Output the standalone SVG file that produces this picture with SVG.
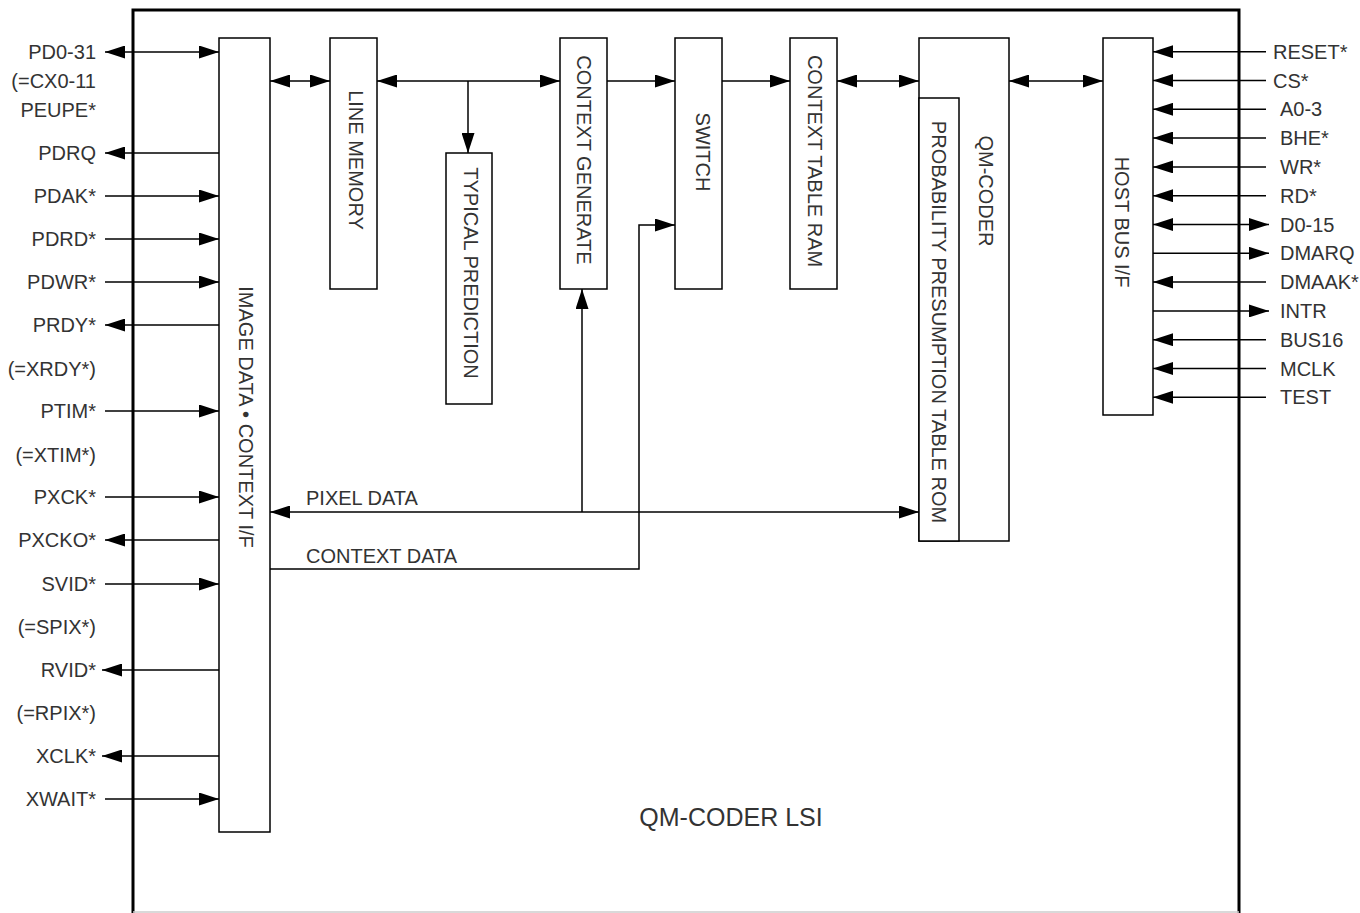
<svg xmlns="http://www.w3.org/2000/svg" width="1360" height="913" viewBox="0 0 1360 913">
  <style>
    .blk { fill: #fff; stroke: #000; stroke-width: 1.5; }
    .ln { fill: none; stroke: #000; stroke-width: 1.5; }
    .out { fill: none; stroke: #000; stroke-width: 3; }
    text { font-family: "Liberation Sans", Arial, sans-serif; font-size: 20px; fill: #333; }
    .l { text-anchor: end; }
    .c { text-anchor: middle; }
  </style>
  <defs>
    <marker id="ah" markerUnits="userSpaceOnUse" markerWidth="20" markerHeight="13" refX="20" refY="6.5" orient="auto-start-reverse">
      <path d="M0,0 L20,6.5 L0,13 Z" fill="#000"/>
    </marker>
  </defs>

  <rect width="1360" height="913" fill="#fff"/>

  <!-- chip outline -->
  <g id="chip">
    <path class="out" d="M133,914 V10 H1239 V914"/>
    <line x1="133" y1="912" x2="1239" y2="912" stroke="#ccc" stroke-width="1.5"/>
    <text class="c" x="731" y="826" style="font-size:25px">QM-CODER LSI</text>
  </g>

  <!-- connectors -->
  <g id="connectors">
    <!-- left-side pins -->
    <line class="ln" x1="105" y1="52" x2="219" y2="52" marker-start="url(#ah)" marker-end="url(#ah)"/>
    <line class="ln" x1="219" y1="153" x2="105" y2="153" marker-end="url(#ah)"/>
    <line class="ln" x1="105" y1="196" x2="219" y2="196" marker-end="url(#ah)"/>
    <line class="ln" x1="105" y1="239" x2="219" y2="239" marker-end="url(#ah)"/>
    <line class="ln" x1="105" y1="282" x2="219" y2="282" marker-end="url(#ah)"/>
    <line class="ln" x1="219" y1="325" x2="105" y2="325" marker-end="url(#ah)"/>
    <line class="ln" x1="105" y1="411" x2="219" y2="411" marker-end="url(#ah)"/>
    <line class="ln" x1="105" y1="497" x2="219" y2="497" marker-end="url(#ah)"/>
    <line class="ln" x1="219" y1="540" x2="105" y2="540" marker-end="url(#ah)"/>
    <line class="ln" x1="105" y1="584" x2="219" y2="584" marker-end="url(#ah)"/>
    <line class="ln" x1="219" y1="670" x2="102" y2="670" marker-end="url(#ah)"/>
    <line class="ln" x1="219" y1="756" x2="102" y2="756" marker-end="url(#ah)"/>
    <line class="ln" x1="105" y1="799" x2="219" y2="799" marker-end="url(#ah)"/>

    <!-- internal data path -->
    <line class="ln" x1="270" y1="81" x2="330" y2="81" marker-start="url(#ah)" marker-end="url(#ah)"/>
    <line class="ln" x1="377" y1="81" x2="560" y2="81" marker-start="url(#ah)" marker-end="url(#ah)"/>
    <line class="ln" x1="468" y1="81" x2="468" y2="153" marker-end="url(#ah)"/>
    <line class="ln" x1="607" y1="81" x2="675" y2="81" marker-end="url(#ah)"/>
    <line class="ln" x1="722" y1="81" x2="790" y2="81" marker-end="url(#ah)"/>
    <line class="ln" x1="837" y1="81" x2="919" y2="81" marker-start="url(#ah)" marker-end="url(#ah)"/>
    <line class="ln" x1="1009" y1="81" x2="1103" y2="81" marker-start="url(#ah)" marker-end="url(#ah)"/>

    <!-- pixel data bus -->
    <line class="ln" x1="270" y1="512" x2="919" y2="512" marker-start="url(#ah)" marker-end="url(#ah)"/>
    <line class="ln" x1="582" y1="512" x2="582" y2="289" marker-end="url(#ah)"/>
    <text x="306" y="505">PIXEL DATA</text>

    <!-- context data bus -->
    <path class="ln" d="M270,569 H639 V225 H675" marker-end="url(#ah)"/>
    <text x="306" y="563">CONTEXT DATA</text>

    <!-- right-side pins -->
    <line class="ln" x1="1266" y1="51.7" x2="1153" y2="51.7" marker-end="url(#ah)"/>
    <line class="ln" x1="1266" y1="80.5" x2="1153" y2="80.5" marker-end="url(#ah)"/>
    <line class="ln" x1="1266" y1="109.3" x2="1153" y2="109.3" marker-end="url(#ah)"/>
    <line class="ln" x1="1266" y1="138.1" x2="1153" y2="138.1" marker-end="url(#ah)"/>
    <line class="ln" x1="1266" y1="166.9" x2="1153" y2="166.9" marker-end="url(#ah)"/>
    <line class="ln" x1="1266" y1="195.7" x2="1153" y2="195.7" marker-end="url(#ah)"/>
    <line class="ln" x1="1153" y1="224.5" x2="1269" y2="224.5" marker-start="url(#ah)" marker-end="url(#ah)"/>
    <line class="ln" x1="1153" y1="253.3" x2="1269" y2="253.3" marker-end="url(#ah)"/>
    <line class="ln" x1="1266" y1="282.1" x2="1153" y2="282.1" marker-end="url(#ah)"/>
    <line class="ln" x1="1153" y1="310.9" x2="1269" y2="310.9" marker-end="url(#ah)"/>
    <line class="ln" x1="1266" y1="339.7" x2="1153" y2="339.7" marker-end="url(#ah)"/>
    <line class="ln" x1="1266" y1="368.5" x2="1153" y2="368.5" marker-end="url(#ah)"/>
    <line class="ln" x1="1266" y1="397.3" x2="1153" y2="397.3" marker-end="url(#ah)"/>
  </g>

  <!-- left pin labels -->
  <g id="left-pins">
    <text class="l" x="96" y="59">PD0-31</text>
    <text class="l" x="96" y="88">(=CX0-11</text>
    <text class="l" x="96" y="117">PEUPE*</text>
    <text class="l" x="96" y="160">PDRQ</text>
    <text class="l" x="96" y="203">PDAK*</text>
    <text class="l" x="96" y="246">PDRD*</text>
    <text class="l" x="96" y="289">PDWR*</text>
    <text class="l" x="96" y="332">PRDY*</text>
    <text class="l" x="96" y="376">(=XRDY*)</text>
    <text class="l" x="96" y="418">PTIM*</text>
    <text class="l" x="96" y="462">(=XTIM*)</text>
    <text class="l" x="96" y="504">PXCK*</text>
    <text class="l" x="96" y="547">PXCKO*</text>
    <text class="l" x="96" y="591">SVID*</text>
    <text class="l" x="96" y="634">(=SPIX*)</text>
    <text class="l" x="96" y="677">RVID*</text>
    <text class="l" x="96" y="720">(=RPIX*)</text>
    <text class="l" x="96" y="763">XCLK*</text>
    <text class="l" x="96" y="806">XWAIT*</text>
  </g>

  <!-- right pin labels -->
  <g id="right-pins">
    <text x="1273" y="59">RESET*</text>
    <text x="1273" y="88">CS*</text>
    <text x="1280" y="116">A0-3</text>
    <text x="1280" y="145">BHE*</text>
    <text x="1280" y="174">WR*</text>
    <text x="1280" y="203">RD*</text>
    <text x="1280" y="232">D0-15</text>
    <text x="1280" y="260">DMARQ</text>
    <text x="1280" y="289">DMAAK*</text>
    <text x="1280" y="318">INTR</text>
    <text x="1280" y="347">BUS16</text>
    <text x="1280" y="376">MCLK</text>
    <text x="1280" y="404">TEST</text>
  </g>

  <!-- functional blocks -->
  <g id="image-if">
    <rect class="blk" x="219" y="38" width="51" height="794"/>
    <text class="c" transform="translate(238.5,417) rotate(90)">IMAGE DATA • CONTEXT I/F</text>
  </g>
  <g id="line-memory">
    <rect class="blk" x="330" y="38" width="47" height="251"/>
    <text class="c" transform="translate(348.5,160) rotate(90)">LINE MEMORY</text>
  </g>
  <g id="typical-prediction">
    <rect class="blk" x="446" y="153" width="46" height="251"/>
    <text class="c" transform="translate(463.5,273) rotate(90)">TYPICAL PREDICTION</text>
  </g>
  <g id="context-generate">
    <rect class="blk" x="560" y="38" width="47" height="251"/>
    <text class="c" transform="translate(576.5,160) rotate(90)">CONTEXT GENERATE</text>
  </g>
  <g id="switch">
    <rect class="blk" x="675" y="38" width="47" height="251"/>
    <text class="c" transform="translate(695.5,152) rotate(90)">SWITCH</text>
  </g>
  <g id="context-table-ram">
    <rect class="blk" x="790" y="38" width="47" height="251"/>
    <text class="c" transform="translate(807.5,161) rotate(90)">CONTEXT TABLE RAM</text>
  </g>
  <g id="qm-coder">
    <rect class="blk" x="919" y="38" width="90" height="503"/>
    <text class="c" transform="translate(978.5,191) rotate(90)">QM-CODER</text>
  </g>
  <g id="probability-rom">
    <rect class="blk" x="919" y="98" width="40" height="443"/>
    <text class="c" transform="translate(931.5,322) rotate(90)">PROBABILITY PRESUMPTION TABLE ROM</text>
  </g>
  <g id="host-bus-if">
    <rect class="blk" x="1103" y="38" width="50" height="377"/>
    <text class="c" transform="translate(1114.5,222) rotate(90)">HOST BUS I/F</text>
  </g>
</svg>
